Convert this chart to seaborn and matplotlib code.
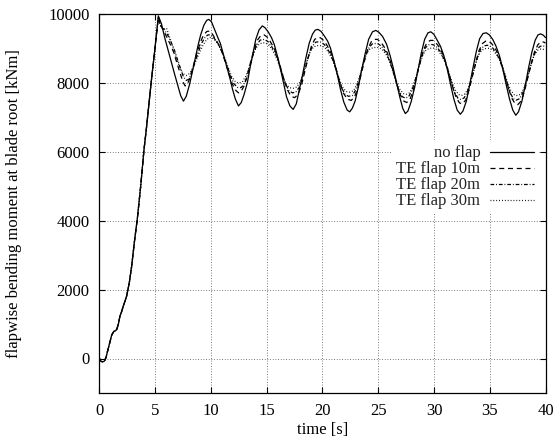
import numpy as np
import pandas as pd
import seaborn as sns
import matplotlib
matplotlib.use("Agg")
import matplotlib.pyplot as plt
from matplotlib.lines import Line2D

# ---------------- data ----------------
series_names = ["no flap", "TE flap 10m", "TE flap 20m", "TE flap 30m"]

# start-up ramp, common to all four runs
t_ramp = [0, 0.1, 0.25, 0.45, 0.6, 0.82, 1.12, 1.3, 1.42, 1.57, 1.72, 1.86, 2.0,
          2.16, 2.3, 2.46, 2.7, 2.91, 3.18, 3.41, 3.72, 4.01, 4.22, 4.67, 5.0]
m_ramp = [30, -60, -100, -80, 20, 300, 680, 780, 800, 840, 1000, 1230, 1350,
          1520, 1650, 1810, 2200, 2680, 3450, 4030, 5000, 6040, 6640, 8040, 9000]

t_noflap = [5.3, 5.58, 5.87, 6.16, 6.45, 6.75, 7.04, 7.3, 7.55, 7.8, 8.1, 8.34, 8.59, 8.84, 9.09, 9.38, 9.63, 9.82,
            10.06, 10.36, 10.66, 10.86, 11.1, 11.4, 11.7, 11.95, 12.2, 12.48, 12.73, 12.98, 13.28, 13.53, 13.78, 14.03, 14.33, 14.62,
            14.85, 15.14, 15.44, 15.69, 15.94, 16.24, 16.54, 16.79, 17.09, 17.38, 17.66, 17.91, 18.21, 18.51, 18.81, 19.11, 19.36, 19.61,
            19.88, 20.17, 20.47, 20.72, 21.02, 21.32, 21.62, 21.92, 22.22, 22.45, 22.69, 22.94, 23.24, 23.54, 23.84, 24.14, 24.49, 24.78,
            25.05, 25.4, 25.75, 26.05, 26.35, 26.65, 26.95, 27.2, 27.43, 27.66, 27.96, 28.26, 28.56, 28.86, 29.16, 29.46, 29.71,
            29.98, 30.28, 30.58, 30.88, 31.18, 31.48, 31.78, 32.08, 32.36, 32.59, 32.89, 33.19, 33.49, 33.79, 34.09, 34.39, 34.69,
            34.96, 35.26, 35.56, 35.86, 36.16, 36.46, 36.76, 37.06, 37.33, 37.57, 37.87, 38.17, 38.47, 38.77, 39.07, 39.32, 39.55, 39.8, 40.0]
m_noflap = [9930, 9700, 9300, 8950, 8600, 8250, 7920, 7620, 7460, 7600, 7950, 8300, 8680, 9050, 9380, 9660, 9800, 9830,
            9760, 9520, 9280, 9130, 8850, 8500, 8140, 7800, 7520, 7320, 7420, 7650, 8000, 8450, 8850, 9250, 9530, 9640,
            9590, 9470, 9300, 9100, 8800, 8400, 7950, 7580, 7320, 7220, 7380, 7750, 8200, 8700, 9130, 9400, 9520, 9540,
            9480, 9350, 9200, 9000, 8650, 8250, 7800, 7430, 7200, 7150, 7260, 7470, 7900, 8400, 8850, 9250, 9470, 9510,
            9460, 9330, 9110, 8800, 8420, 7980, 7560, 7250, 7100, 7170, 7450, 7850, 8350, 8850, 9250, 9440, 9470,
            9400, 9230, 9050, 8780, 8400, 7950, 7520, 7200, 7080, 7170, 7450, 7920, 8420, 8900, 9270, 9420, 9440,
            9380, 9250, 9050, 8780, 8400, 7950, 7530, 7200, 7050, 7150, 7450, 7900, 8420, 8880, 9230, 9380, 9410, 9370, 9300]

t_flap10 = [5.3, 5.53, 5.78, 6.08, 6.38, 6.68, 6.98, 7.28, 7.5, 7.7, 7.9, 8.15, 8.45, 8.75, 9.05, 9.35, 9.65, 9.9,
            10.11, 10.41, 10.71, 11.01, 11.31, 11.61, 11.91, 12.21, 12.48, 12.73, 12.98, 13.28, 13.58, 13.88, 14.18, 14.48, 14.78,
            15.04, 15.34, 15.64, 15.94, 16.24, 16.54, 16.84, 17.19, 17.51, 17.81, 18.11, 18.41, 18.71, 19.01, 19.31, 19.56, 19.81,
            20.07, 20.37, 20.67, 20.97, 21.27, 21.57, 21.87, 22.22, 22.58, 22.88, 23.18, 23.48, 23.78, 24.08, 24.38, 24.68, 24.93,
            25.2, 25.5, 25.8, 26.1, 26.4, 26.7, 27.0, 27.3, 27.56, 27.86, 28.16, 28.46, 28.76, 29.06, 29.36, 29.66, 29.91,
            30.18, 30.48, 30.78, 31.08, 31.38, 31.68, 31.98, 32.28, 32.54, 32.84, 33.14, 33.44, 33.74, 34.04, 34.34, 34.64, 34.89,
            35.16, 35.46, 35.76, 36.06, 36.36, 36.66, 36.96, 37.26, 37.52, 37.82, 38.12, 38.42, 38.72, 39.02, 39.32, 39.6, 39.85, 40.0]
m_flap10 = [9900, 9650, 9500, 9300, 9100, 8870, 8550, 8250, 8020, 7900, 7950, 8150, 8500, 8850, 9150, 9380, 9480, 9490,
            9420, 9260, 9100, 8880, 8580, 8270, 7970, 7780, 7700, 7750, 7900, 8200, 8600, 8950, 9230, 9360, 9380,
            9320, 9180, 9020, 8780, 8450, 8100, 7800, 7600, 7560, 7650, 7900, 8300, 8700, 9050, 9250, 9300, 9300,
            9230, 9100, 8930, 8680, 8350, 8000, 7700, 7520, 7480, 7580, 7850, 8250, 8650, 8980, 9180, 9250, 9250,
            9180, 9050, 8870, 8600, 8270, 7920, 7630, 7460, 7420, 7520, 7800, 8200, 8600, 8950, 9150, 9220, 9220,
            9150, 9020, 8830, 8560, 8220, 7870, 7570, 7410, 7380, 7490, 7780, 8180, 8580, 8930, 9130, 9200, 9200,
            9130, 9000, 8810, 8540, 8200, 7850, 7550, 7390, 7360, 7470, 7760, 8160, 8560, 8900, 9100, 9180, 9170, 9140]

t_flap20 = [5.3, 5.53, 5.83, 6.13, 6.43, 6.73, 7.03, 7.33, 7.55, 7.8, 8.05, 8.3, 8.6, 8.9, 9.2, 9.5, 9.75, 9.99,
            10.26, 10.56, 10.86, 11.16, 11.46, 11.76, 12.06, 12.38, 12.68, 12.93, 13.23, 13.53, 13.83, 14.13, 14.43, 14.83,
            15.14, 15.44, 15.74, 16.04, 16.34, 16.64, 16.99, 17.31, 17.61, 17.91, 18.21, 18.51, 18.81, 19.11, 19.41, 19.71, 19.89,
            20.17, 20.47, 20.77, 21.07, 21.37, 21.67, 22.02, 22.33, 22.68, 22.98, 23.28, 23.58, 23.88, 24.18, 24.48, 24.78, 25.0,
            25.3, 25.6, 25.9, 26.2, 26.5, 26.8, 27.15, 27.41, 27.71, 28.01, 28.31, 28.61, 28.91, 29.21, 29.51, 29.81, 29.98,
            30.28, 30.58, 30.88, 31.18, 31.48, 31.78, 32.13, 32.39, 32.69, 32.99, 33.29, 33.59, 33.89, 34.19, 34.49, 34.74, 34.96,
            35.26, 35.56, 35.86, 36.16, 36.46, 36.76, 37.11, 37.37, 37.67, 37.97, 38.27, 38.57, 38.87, 39.17, 39.52, 39.8, 40.0]
m_flap20 = [9880, 9620, 9530, 9380, 9180, 8950, 8650, 8370, 8160, 8060, 8100, 8300, 8600, 8900, 9150, 9320, 9380, 9380,
            9300, 9170, 9000, 8770, 8480, 8200, 7970, 7860, 7850, 7920, 8150, 8500, 8850, 9100, 9230, 9250,
            9180, 9050, 8880, 8630, 8320, 8000, 7770, 7700, 7720, 7850, 8120, 8480, 8830, 9060, 9170, 9180, 9170,
            9100, 8970, 8790, 8530, 8200, 7880, 7660, 7600, 7620, 7780, 8070, 8430, 8780, 9020, 9120, 9130, 9120,
            9050, 8920, 8720, 8450, 8120, 7800, 7590, 7550, 7580, 7760, 8060, 8420, 8760, 9000, 9090, 9100, 9090,
            9020, 8890, 8690, 8420, 8080, 7760, 7550, 7510, 7550, 7730, 8030, 8390, 8730, 8970, 9060, 9080, 9070,
            9000, 8870, 8670, 8400, 8060, 7740, 7530, 7490, 7530, 7710, 8010, 8370, 8710, 8950, 9050, 9060, 9040]

t_flap30 = [5.3, 5.53, 5.78, 6.03, 6.33, 6.63, 6.93, 7.23, 7.5, 7.8, 8.1, 8.4, 8.7, 9.0, 9.3, 9.6, 9.85, 10.06,
            10.36, 10.66, 10.96, 11.26, 11.56, 11.86, 12.21, 12.53, 12.83, 13.13, 13.43, 13.73, 14.03, 14.33, 14.63, 14.89,
            15.19, 15.49, 15.79, 16.09, 16.39, 16.69, 17.04, 17.36, 17.71, 18.01, 18.31, 18.61, 18.91, 19.21, 19.51, 19.81, 19.97,
            20.27, 20.57, 20.87, 21.17, 21.47, 21.77, 22.12, 22.43, 22.78, 23.08, 23.38, 23.68, 23.98, 24.28, 24.58, 24.88, 25.1,
            25.4, 25.7, 26.0, 26.3, 26.6, 26.9, 27.25, 27.51, 27.81, 28.11, 28.41, 28.71, 29.01, 29.31, 29.61, 29.91, 30.08,
            30.38, 30.68, 30.98, 31.28, 31.58, 31.88, 32.23, 32.49, 32.79, 33.09, 33.39, 33.69, 33.99, 34.29, 34.59, 34.89, 35.06,
            35.36, 35.66, 35.96, 36.26, 36.56, 36.86, 37.21, 37.47, 37.77, 38.07, 38.37, 38.67, 38.97, 39.27, 39.57, 40.0]
m_flap30 = [9860, 9600, 9540, 9580, 9300, 9000, 8700, 8420, 8260, 8200, 8260, 8430, 8650, 8880, 9080, 9230, 9300, 9310,
            9230, 9100, 8920, 8700, 8430, 8180, 8020, 7980, 8020, 8180, 8450, 8750, 8990, 9110, 9150, 9150,
            9080, 8960, 8780, 8540, 8240, 7980, 7850, 7830, 7870, 8030, 8300, 8630, 8900, 9030, 9070, 9070, 9060,
            8990, 8860, 8680, 8430, 8140, 7880, 7740, 7720, 7760, 7940, 8230, 8570, 8850, 8980, 9010, 9020, 9010,
            8940, 8810, 8620, 8370, 8070, 7820, 7680, 7660, 7700, 7880, 8180, 8520, 8810, 8950, 8990, 9000, 8990,
            8920, 8790, 8600, 8350, 8040, 7790, 7650, 7630, 7670, 7850, 8150, 8500, 8790, 8940, 8980, 8990, 8980,
            8910, 8780, 8590, 8340, 8030, 7780, 7640, 7620, 7660, 7840, 8140, 8490, 8780, 8930, 8970, 8950]

x_ticks = [0, 5, 10, 15, 20, 25, 30, 35, 40]
y_ticks = [0, 2000, 4000, 6000, 8000, 10000]

# ---------------- build long table ----------------
frames = []
for name, tt, mm in zip(series_names,
                        [t_noflap, t_flap10, t_flap20, t_flap30],
                        [m_noflap, m_flap10, m_flap20, m_flap30]):
    frames.append(pd.DataFrame({"time": list(t_ramp) + list(tt),
                                "moment": list(m_ramp) + list(mm),
                                "series": name}))
df = pd.concat(frames, ignore_index=True)

# ---------------- style ----------------
sns.set_theme(style="ticks")
plt.rcParams["font.family"] = ["Liberation Serif", "DejaVu Serif"]
plt.rcParams["font.size"] = 12
plt.rcParams["axes.linewidth"] = 0.9
plt.rcParams["xtick.direction"] = "in"
plt.rcParams["ytick.direction"] = "in"

fig = plt.figure(figsize=(5.58, 4.41), dpi=100)
ax = fig.add_axes([99.2 / 558, 1 - 393 / 441, (545.6 - 99.2) / 558, (393 - 13.5) / 441])

dash_map = {"no flap": "",
            "TE flap 10m": (4, 3),
            "TE flap 20m": (3, 1.5, 0.7, 1.5),
            "TE flap 30m": (0.7, 1.6)}

sns.lineplot(data=df, x="time", y="moment", hue="series", style="series",
             hue_order=series_names, style_order=series_names,
             palette=["black"] * 4, dashes=dash_map, sort=False,
             estimator=None, units="series", linewidth=0.9, ax=ax, legend=False)

ax.set_xlim(0, 40)
ax.set_ylim(-1000, 10000)
ax.set_xticks(x_ticks)
ax.set_yticks(y_ticks)
ax.set_xticklabels([str(v) for v in x_ticks], fontsize=12)
ax.set_yticklabels([str(v) for v in y_ticks], fontsize=12)
ax.tick_params(axis="both", which="both", top=True, right=True, length=4.5,
               width=0.8, color="black", pad=7, labelcolor="black")
for sp in ax.spines.values():
    sp.set_visible(True)
    sp.set_color("black")

ax.grid(True, color="0.3", linestyle=(0, (1, 2.2)), linewidth=0.6)
ax.set_axisbelow(True)

ax.set_xlabel("time [s]", fontsize=12, color="black")
ax.set_ylabel("flapwise bending moment at blade root [kNm]", fontsize=12, color="black")
ax.xaxis.set_label_coords(0.5, -0.077)
ax.yaxis.set_label_coords(-0.172, 0.5)

handles = [Line2D([], [], color="black", lw=0.9, linestyle="-")]
for n in series_names[1:]:
    handles.append(Line2D([], [], color="black", lw=0.9, dashes=dash_map[n]))
leg = ax.legend(handles, series_names, loc="upper right",
                bbox_to_anchor=(0.99, 0.672), markerfirst=False,
                frameon=True, fancybox=False, framealpha=1.0,
                edgecolor="white", facecolor="white", fontsize=12,
                handlelength=2.6, handletextpad=0.6, labelspacing=0.0,
                borderpad=0.3, borderaxespad=0.15)
leg.get_frame().set_linewidth(0)

fig.savefig("out.png", dpi=100)
